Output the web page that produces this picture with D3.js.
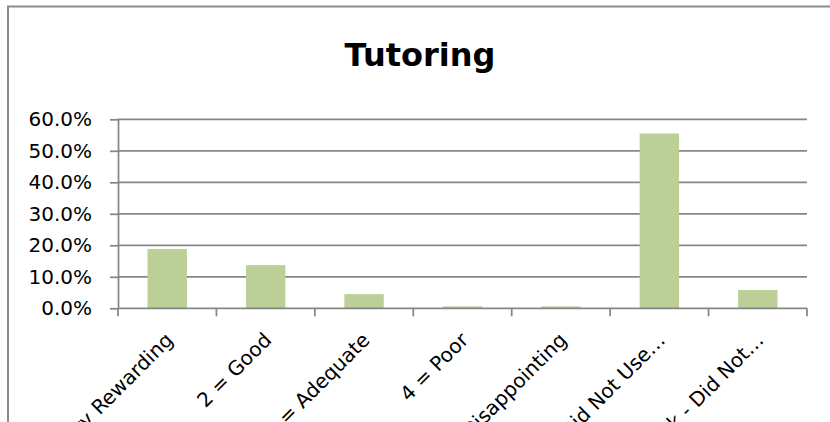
<!DOCTYPE html>
<html lang="en">
	<head>
		<meta charset="utf-8">
		<title>Tutoring</title>
		<script src="https://cdn.jsdelivr.net/npm/d3@7"></script>
		<style type="text/css">
			body {
				margin: 0;
				background: #ffffff;
			}
			text {
				font-family: "DejaVu Sans", sans-serif;
				fill: #000000;
			}
		</style>
	</head>
	<body>
		<script>
			//Data
			var categories = ["1 = Very Rewarding", "2 = Good", "3 = Adequate", "4 = Poor", "5 = Disappointing", "N/A - Did Not Use\u2026", "Blank - Did Not\u2026"];
			var percents = [0.188, 0.137, 0.045, 0.006, 0.006, 0.555, 0.058];
			var yTicks = [0, 0.1, 0.2, 0.3, 0.4, 0.5, 0.6];
			var chartTitle = "Tutoring";

			//Width and height
			var w = 830;
			var h = 422;
			var plot = {left: 118, right: 807, top: 119.3, bottom: 308.3};

			//Create SVG element
			var svg = d3.select("body")
						.append("svg")
						.attr("width", w)
						.attr("height", h);

			//Chart border (runs past the right and bottom edges)
			svg.append("rect")
				.attr("x", 8)
				.attr("y", 6.5)
				.attr("width", 900)
				.attr("height", 500)
				.attr("fill", "none")
				.attr("stroke", "#8c8c8c")
				.attr("stroke-width", 2);

			//Title
			svg.append("text")
				.attr("x", 420)
				.attr("y", 66)
				.attr("text-anchor", "middle")
				.style("font-size", "32px")
				.style("font-weight", "bold")
				.text(chartTitle);

			//Scales
			var xScale = d3.scaleBand()
							.domain(categories)
							.range([plot.left, plot.right])
							.paddingInner(0.6)
							.paddingOuter(0.3);

			var yScale = d3.scaleLinear()
							.domain([0, 0.6])
							.range([plot.bottom, plot.top]);

			//Gridlines
			svg.append("g")
				.selectAll("line")
				.data(yTicks.slice(1))
				.enter()
				.append("line")
				.attr("x1", plot.left)
				.attr("x2", plot.right)
				.attr("y1", function(d) { return yScale(d); })
				.attr("y2", function(d) { return yScale(d); })
				.attr("stroke", "#868686")
				.attr("stroke-width", 1.75);

			//Bars
			svg.append("g")
				.selectAll("rect")
				.data(percents)
				.enter()
				.append("rect")
				.attr("x", function(d, i) { return xScale(categories[i]); })
				.attr("y", function(d) { return yScale(d); })
				.attr("width", xScale.bandwidth())
				.attr("height", function(d) { return yScale(0) - yScale(d); })
				.attr("fill", "#bbcf96");

			//Y axis
			var yAxis = d3.axisLeft(yScale)
							.tickValues(yTicks)
							.tickFormat(d3.format(".1%"))
							.tickSizeInner(8)
							.tickSizeOuter(0)
							.tickPadding(18);

			var gy = svg.append("g")
				.attr("transform", "translate(" + plot.left + ",0)")
				.call(yAxis);
			gy.selectAll("path, line").attr("stroke", "#868686").attr("stroke-width", 1.75);
			gy.selectAll("text")
				.style("font-family", "'DejaVu Sans', sans-serif")
				.style("font-size", "20px")
				.attr("fill", "#000");

			//X axis: ticks at category boundaries
			var step = xScale.step();
			var boundaries = d3.range(categories.length + 1).map(function(i) {
				return plot.left + i * step;
			});

			svg.append("line")
				.attr("x1", plot.left)
				.attr("x2", plot.right)
				.attr("y1", plot.bottom)
				.attr("y2", plot.bottom)
				.attr("stroke", "#868686")
				.attr("stroke-width", 1.75);

			svg.append("g")
				.selectAll("line")
				.data(boundaries)
				.enter()
				.append("line")
				.attr("x1", function(d) { return d; })
				.attr("x2", function(d) { return d; })
				.attr("y1", plot.bottom)
				.attr("y2", plot.bottom + 8)
				.attr("stroke", "#868686")
				.attr("stroke-width", 1.75);

			//Category labels, rotated
			svg.append("g")
				.selectAll("text")
				.data(categories)
				.enter()
				.append("text")
				.attr("transform", function(d) {
					var cx = xScale(d) + xScale.bandwidth() / 2;
					return "translate(" + (cx + 7) + "," + (plot.bottom + 33) + ") rotate(-45)";
				})
				.attr("text-anchor", "end")
				.style("font-size", "20px")
				.text(function(d) { return d; });
		</script>
	</body>
</html>
